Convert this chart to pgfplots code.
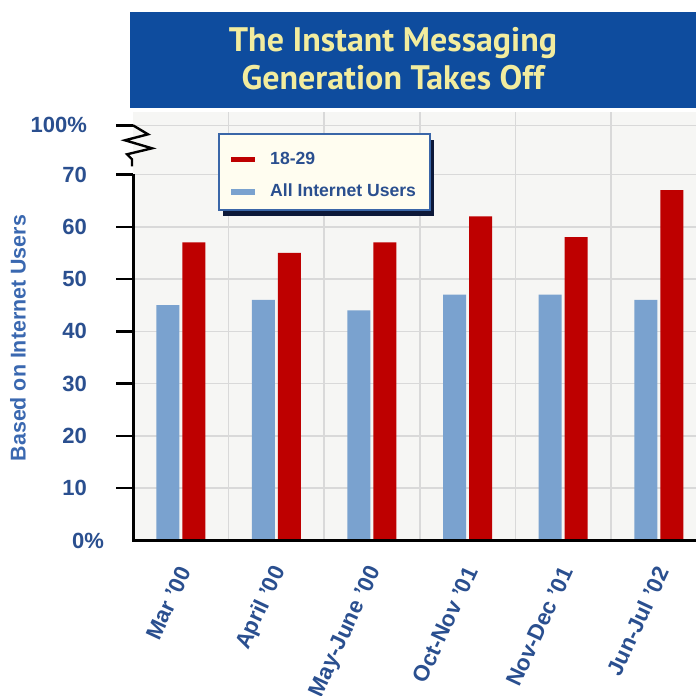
\documentclass[border=0pt]{standalone}
\usepackage{fontspec}
\setmainfont{Liberation Sans}
\newfontfamily\titlefont{PT Sans}
\usepackage{pgfplots}
\pgfplotsset{compat=1.18}

\definecolor{titlebg}{HTML}{0E4C9E}
\definecolor{titlefg}{HTML}{F2EC9E}
\definecolor{barred}{HTML}{BE0000}
\definecolor{barblue}{HTML}{7AA2CF}
\definecolor{labblue}{HTML}{2A4F8F}
\definecolor{ylabblue}{HTML}{3A68B0}
\definecolor{plotbg}{HTML}{F6F6F4}
\definecolor{gridc}{HTML}{D9D9D9}
\definecolor{legbg}{HTML}{FFFDF0}
\definecolor{legedge}{HTML}{3A66A8}
\definecolor{legshadow}{HTML}{0C1838}

\pgfplotsset{
    /pgfplots/ybar legend/.style={
        /pgfplots/legend image code/.code={\fill[##1] (0pt,-1.3pt) rectangle (12pt,1.3pt);}
    }
}

\begin{document}
\begin{tikzpicture}
    \useasboundingbox (0,0) rectangle (348pt,-348pt);
    \clip (0,0) rectangle (348pt,-348pt);
    % title banner
    \fill[titlebg] (65pt,-6pt) rectangle (352pt,-54pt);
    \node[text=titlefg, align=center, font=\titlefont\bfseries\fontsize{17}{19}\selectfont]
        at (196.5pt,-29.5pt) {The Instant Messaging\\Generation Takes Off};

    \begin{axis}[
        at={(66.5pt,-270.25pt)}, anchor=south west,
        scale only axis, width=282pt, height=214.4pt,
        xmin=-0.5, xmax=5.4, ymin=0, ymax=82,
        clip=false,
        axis background/.style={fill=plotbg},
        axis line style={draw=none},
        ybar=1.5pt, bar width=11.5pt,
        xtick={0,...,5},
        xticklabels={Mar '00,April '00,May-June '00,Oct-Nov '01,Nov-Dec '01,Jun-Jul '02},
        minor xtick={0.5,1.5,...,5.5},
        xminorgrids, ymajorgrids,
        major grid style={gridc, line width=0.75pt},
        minor grid style={gridc, line width=0.75pt},
        ytick={10,20,...,70,79.4},
        yticklabels={10,20,30,40,50,60,70,100\%},
        extra y ticks={0}, extra y tick labels={0\%},
        extra y tick style={major tick length=0pt, ymajorgrids=false},
        tick align=outside,
        xtick style={draw=none},
        minor tick length=0pt,
        ytick style={black, line width=1.25pt},
        major tick length=8.5pt,
        yticklabel style={font=\bfseries\fontsize{11}{13}\selectfont, text=labblue,
            anchor=east, xshift=-11pt},
        xticklabel style={font=\bfseries\fontsize{11.2}{13}\selectfont, text=labblue,
            rotate=65, anchor=east, yshift=-4pt, xshift=-0.5pt},
        ylabel={Based on Internet Users},
        ylabel style={at={(axis description cs:-0.204,0.472)}, anchor=center,
            font=\bfseries\fontsize{10.7}{12}\selectfont, text=ylabblue},
        legend style={at={(axis description cs:0.1735,0.9167)}, anchor=north west,
            fill=none, draw=none, inner sep=0pt,
            font=\bfseries\fontsize{8.8}{10}\selectfont, text=labblue,
            row sep=4.5pt, column sep=5.5pt},
        legend cell align=left,
        reverse legend,
    ]
        % legend panel with its shadow (drawn before the legend itself)
        \fill[legshadow] ([xshift=2pt,yshift=-3pt]axis description cs:0.1525,0.948)
            rectangle ([xshift=2pt,yshift=-3pt]axis description cs:0.5266,0.7708);
        \filldraw[fill=legbg, draw=legedge, line width=0.6pt]
            (axis description cs:0.1525,0.948) rectangle (axis description cs:0.5266,0.7708);
        \addplot[fill=barblue, draw=none] coordinates {(0,45) (1,46) (2,44) (3,47) (4,47) (5,46)};
        \addplot[fill=barred, draw=none] coordinates {(0,57) (1,55) (2,57) (3,62) (4,58) (5,67)};
        \legend{All Internet Users,18-29}
        \coordinate (brk) at (axis cs:-0.5,79.4);
        \coordinate (top70) at (axis cs:-0.5,70);
        \coordinate (orig) at (axis cs:-0.5,0);
        \coordinate (xend) at (axis cs:5.4,0);
    \end{axis}
    % axis lines with a break between 70 and 100%
    \draw[line width=1.5pt] (top70) -- (orig) -- ([xshift=5pt]xend);
    \draw[line width=1.2pt, line join=miter] (brk)
        -- ++(7.5pt,-4.5pt) -- ++(-11.5pt,-3pt) -- ++(13.5pt,-4pt)
        -- ++(-12.5pt,-3pt) -- ++(2.5pt,-2.5pt) -- ++(0,-3.5pt);
\end{tikzpicture}
\end{document}
